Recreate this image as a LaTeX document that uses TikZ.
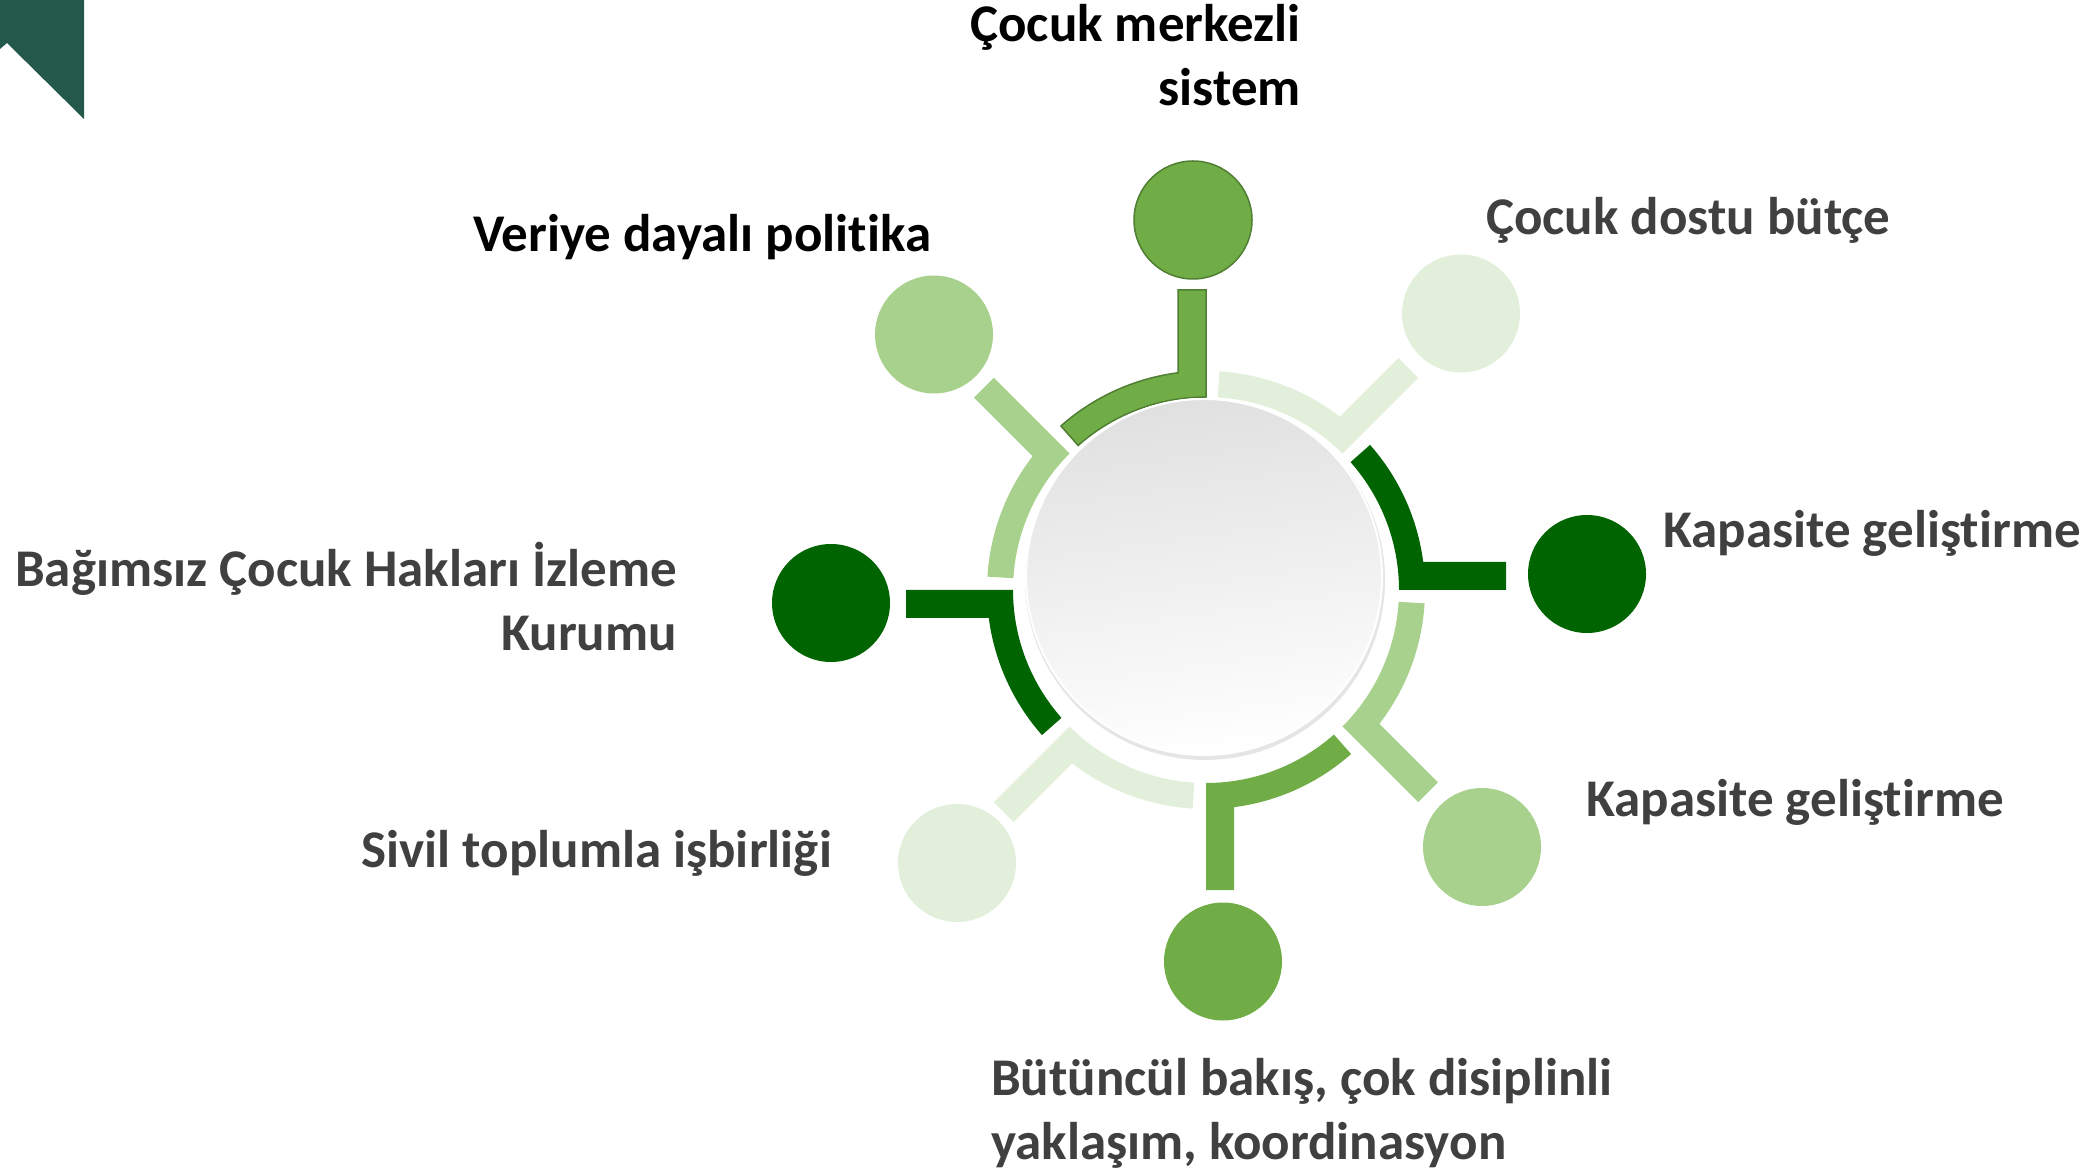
\documentclass[tikz,border=0pt]{standalone}
\usepackage{fontspec}
\setmainfont{Carlito}[Ligatures={NoCommon,NoRequired,NoContextual}]
\definecolor{gmid}{HTML}{70AD47}
\definecolor{gmidd}{HTML}{507E32}
\definecolor{gpale}{HTML}{E2EFDA}
\definecolor{gdark}{HTML}{006400}
\definecolor{glight}{HTML}{A9D18E}
\definecolor{txtgray}{HTML}{404040}
\definecolor{tealc}{RGB}{35,88,75}
\newcommand\nolig{\kern0pt }
\newcommand\ringseg[3]{%
  \begin{scope}[shift={(1206,581)}, rotate=#1]
    \path[fill=#2,#3] (193,0) -- (300,0) -- (300,28) -- (217.2,28)
      arc[start angle=7.35, end angle=41.5, radius=219] -- (41.5:193)
      arc[start angle=41.5, end angle=0, radius=193] -- cycle;
  \end{scope}}
\begin{document}
\begin{tikzpicture}[x=1pt,y=1pt]
\tikzset{
  lbl/.style={inner sep=0pt, font=\fontsize{53}{64}\selectfont\bfseries, text=txtgray},
  lblk/.style={lbl, text=black},
  dot/.style={circle, inner sep=0pt, minimum size=118pt},
}
\useasboundingbox (0,0) rectangle (2098,1171);
% corner ribbon
\fill[tealc] (0,1171) -- (84,1171) -- (84,1052) -- (7,1128) -- (0,1122) -- cycle;

% ring segments
\ringseg{90}{gmid}{draw=gmidd, line width=1.5pt}
\ringseg{45}{gpale}{}
\ringseg{0}{gdark}{}
\ringseg{-45}{glight}{}
\ringseg{-90}{gmid}{}
\ringseg{-135}{gpale}{}
\ringseg{180}{gdark}{}
\ringseg{135}{glight}{}

% outer circles
\node[dot, fill=gmid, draw=gmidd, line width=1.5pt] (c1) at (1193,951) {};
\node[dot, fill=gpale] (c2) at (1461,857.5) {};
\node[dot, fill=gdark] (c3) at (1587,597) {};
\node[dot, fill=glight] (c4) at (1482,324) {};
\node[dot, fill=gmid] (c5) at (1223,209.5) {};
\node[dot, fill=gpale] (c6) at (957,308) {};
\node[dot, fill=gdark] (c7) at (831,568) {};
\node[dot, fill=glight] (c8) at (934,836.5) {};

% hub
\fill[black!10] (1205,591) circle (180);
\node[circle, inner sep=0pt, minimum size=356pt, top color=black!12, bottom color=white, shading angle=8, draw=white, line width=2pt] (hub) at (1204,594) {};

% labels
\node[lblk, anchor=base east] (t1a) at (1301,1129) {Çocuk merkezli};
\node[lblk, anchor=base east] (t1b) at (1301,1065) {sistem};
\node[lblk, anchor=base west] (t8) at (473,919) {Veriye dayalı polit\nolig ika};
\node[lbl, anchor=base west] (t2) at (1486,936) {Çocuk dostu bütçe};
\node[lbl, anchor=base west] (t3) at (1663,623) {Kapasite gelişt\nolig irme};
\node[lbl, anchor=base east] (t7a) at (677,584) {Bağımsız Çocuk Hakları İzleme};
\node[lbl, anchor=base east] (t7b) at (677,520) {Kurumu};
\node[lbl, anchor=base west] (t4) at (1586,355) {Kapasite gelişt\nolig irme};
\node[lbl, anchor=base east] (t6) at (832,304) {Sivil toplumla işbirliği};
\node[lbl, anchor=base west] (t5a) at (991,76) {Bütüncül bakış, çok disiplinli};
\node[lbl, anchor=base west] (t5b) at (991,12) {yaklaşım, koordinasyon};
\end{tikzpicture}
\end{document}
